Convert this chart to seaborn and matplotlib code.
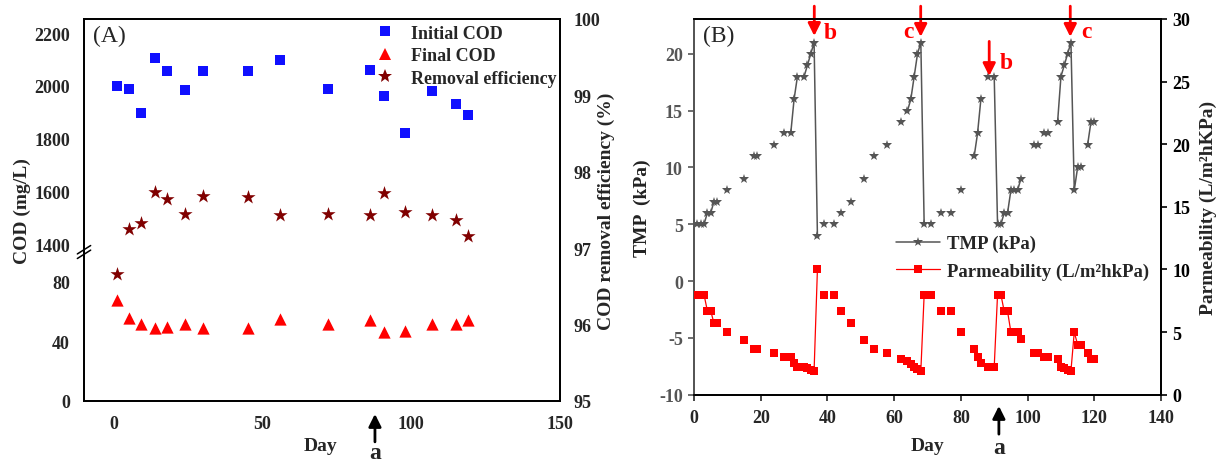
import numpy as np
import pandas as pd
import matplotlib
matplotlib.use("Agg")
import matplotlib.pyplot as plt
import matplotlib.transforms as mtransforms
from matplotlib.lines import Line2D
import seaborn as sns

# ---------------- Panel A data ----------------
a_day = [1, 5, 9, 14, 18, 24, 30, 45, 56, 72, 86, 91, 98, 107, 115, 119]
initial_cod = [2000, 1988, 1899, 2106, 2058, 1985, 2057, 2055, 2098, 1988, 2059, 1960, 1821, 1979, 1931, 1888]
final_cod = [67.3, 55.5, 51.5, 48.7, 49.8, 51.8, 48.7, 48.7, 54.7, 51.5, 54.2, 46.2, 47.1, 51.5, 51.5, 54.4]
removal_eff = [96.66, 97.25, 97.33, 97.74, 97.64, 97.45, 97.68, 97.67, 97.44, 97.45, 97.44, 97.72, 97.48, 97.43, 97.37, 97.16]
a_xticks = [0, 50, 100, 150]
a_yticks = [0, 40, 80, 1400, 1600, 1800, 2000, 2200]
a_y2ticks = [95, 96, 97, 98, 99, 100]

# ---------------- Panel B data ----------------
b_day = [1, 2, 3, 4, 5, 6, 7, 10, 15, 18, 19, 24, 27, 29, 30, 31, 33, 34, 35, 36,
         37, 39, 42, 44, 47, 51, 54, 58, 62, 64, 65, 66, 67, 68,
         69, 71, 74, 77, 80, 84, 85, 86, 88, 90,
         91, 92, 93, 94, 95, 96, 97, 98, 102, 103, 105, 106, 109, 110, 111, 112, 113,
         114, 115, 116, 118, 119, 120]
tmp = [5, 5, 5, 6, 6, 7, 7, 8, 9, 11, 11, 12, 13, 13, 16, 18, 18, 19, 20, 21,
       4, 5, 5, 6, 7, 9, 11, 12, 14, 15, 16, 18, 20, 21,
       5, 5, 6, 6, 8, 11, 13, 16, 18, 18,
       5, 5, 6, 6, 8, 8, 8, 9, 12, 12, 13, 13, 14, 18, 19, 20, 21,
       8, 10, 10, 12, 14, 14]
perm = [8.0, 8.0, 8.0, 6.7, 6.7, 5.7, 5.7, 5.0, 4.4, 3.65, 3.65, 3.3, 3.05, 3.05, 2.5, 2.24, 2.24, 2.1, 2.0, 1.9,
        10.0, 8.0, 8.0, 6.7, 5.7, 4.4, 3.65, 3.3, 2.85, 2.67, 2.45, 2.24, 2.05, 1.9,
        8.0, 8.0, 6.65, 6.65, 5.0, 3.65, 3.05, 2.5, 2.22, 2.22,
        8.0, 8.0, 6.65, 6.65, 5.0, 5.0, 5.0, 4.45, 3.3, 3.3, 3.05, 3.05, 2.84, 2.24, 2.1, 2.0, 1.9,
        5.0, 4.0, 4.0, 3.32, 2.84, 2.84]
b_xticks = [0, 20, 40, 60, 80, 100, 120, 140]
b_yticks = [-10, -5, 0, 5, 10, 15, 20]
b_y2ticks = [0, 5, 10, 15, 20, 25, 30]

sns.set_style("ticks")
plt.rcParams["font.family"] = ["Liberation Serif", "DejaVu Serif"]
plt.rcParams["font.weight"] = "bold"
plt.rcParams["axes.labelweight"] = "bold"
plt.rcParams["axes.unicode_minus"] = False

W, H = 1217, 464
fig = plt.figure(figsize=(W / 100, H / 100), dpi=100)

def rect(l, t, r, b):
    return [l / W, 1 - b / H, (r - l) / W, (b - t) / H]

# ====================== Panel A ======================
axA = fig.add_axes(rect(84, 20, 560, 402))
L_LO, L_HI, K_LO, K_UP = 104.0, 1400.0, 1.5, 0.265
B1 = L_LO * K_LO
B2 = B1 + 1.0

def fwd(y):
    y = np.asarray(y, dtype=float)
    return np.where(y <= L_LO, y * K_LO,
                    np.where(y <= L_HI, B1 + (y - L_LO) / (L_HI - L_LO),
                             B2 + (y - L_HI) * K_UP))

def inv(v):
    v = np.asarray(v, dtype=float)
    return np.where(v <= B1, v / K_LO,
                    np.where(v <= B2, L_LO + (v - B1) * (L_HI - L_LO),
                             L_HI + (v - B2) / K_UP))

axA.set_yscale("function", functions=(fwd, inv))
dfA = pd.DataFrame({"day": a_day, "init": initial_cod, "final": final_cod, "rem": removal_eff})
sns.scatterplot(data=dfA, x="day", y="init", ax=axA, marker="s", s=55, color="#1010ff",
                linewidth=0, legend=False, zorder=3)
sns.scatterplot(data=dfA, x="day", y="final", ax=axA, marker="^", s=78, color="#ff0000",
                linewidth=0, legend=False, zorder=3)
axA.set_xlim(-10, 150)
axA.set_ylim(0, 2253)
axA.set_xticks(a_xticks)
axA.set_yticks(a_yticks)
axA.set_yticklabels([str(t) for t in a_yticks])
axA.tick_params(axis="both", length=0, labelsize=13, pad=10)
axA.set_xlabel("Day", fontsize=14)
axA.set_ylabel("COD (mg/L)", fontsize=14)
axA.xaxis.set_label_coords(0.496, -0.095)
axA.yaxis.set_label_coords(-0.111, 0.5)

axA2 = axA.twinx()
sns.scatterplot(data=dfA, x="day", y="rem", ax=axA2, marker="*", s=115, color="#800000",
                linewidth=0, legend=False, zorder=3)
axA2.set_ylim(95, 100)
axA2.set_yticks(a_y2ticks)
axA2.tick_params(axis="y", length=0, labelsize=13, pad=10)
axA2.set_ylabel("COD removal efficiency (%)", fontsize=14)
axA2.yaxis.set_label_coords(1.079, 0.5)
for ax in (axA, axA2):
    for s in ax.spines.values():
        s.set_linewidth(1.3)
        s.set_color("black")
        s.set_visible(True)

# axis break marks
for dy in (0.0, -0.012):
    axA.plot([-0.014, 0.014], [0.385 + dy, 0.407 + dy], transform=axA.transAxes,
             color="black", lw=1.1, clip_on=False, zorder=5)

axA.text(0.018, 0.985, "(A)", transform=axA.transAxes, ha="left", va="top",
         fontsize=17, fontweight="normal")

hA = [Line2D([], [], ls="none", marker="s", ms=7, color="#1010ff", mew=0),
      Line2D([], [], ls="none", marker="^", ms=8, color="#ff0000", mew=0),
      Line2D([], [], ls="none", marker="*", ms=10, color="#800000", mew=0)]
axA2.legend(hA, ["Initial COD", "Final COD", "Removal efficiency"], loc="upper left",
            bbox_to_anchor=(0.599, 0.985), frameon=False, fontsize=13, borderpad=0,
            borderaxespad=0, handlelength=1.8, handletextpad=0.5, labelspacing=0.3)

trA = mtransforms.blended_transform_factory(axA.transData, axA.transAxes)
axA.annotate("", xy=(87.8, -0.034), xycoords=trA, xytext=(87.8, -0.107), textcoords=trA,
             arrowprops=dict(arrowstyle="-|>,head_length=0.5,head_width=0.25", color="black",
                             lw=2, mutation_scale=15, shrinkA=0, shrinkB=0),
             annotation_clip=False)
axA.text(87.8, -0.136, "a", transform=trA, ha="center", va="center", fontsize=17,
         fontweight="bold")

# ====================== Panel B ======================
axB = fig.add_axes(rect(694, 20, 1161, 395.7))
dfB = pd.DataFrame({"day": b_day, "tmp": tmp, "perm": perm})
dfB["run"] = (dfB["day"].diff() > 1).cumsum()
gray = "#555555"
sns.lineplot(data=dfB, x="day", y="tmp", units="run", estimator=None, ax=axB, color=gray,
             lw=1.1, marker="*", markersize=7.5, markeredgecolor=gray, markeredgewidth=0,
             legend=False, zorder=3)
axB.set_xlim(0, 140)
axB.set_ylim(-10, 23.07)
axB.set_xticks(b_xticks)
axB.set_yticks(b_yticks)
axB.tick_params(axis="x", length=4, width=1.2, labelsize=13, pad=6, direction="out")
axB.tick_params(axis="y", length=4, width=1.2, labelsize=13, pad=4, direction="out",
                colors=gray)
axB.set_xlabel("Day", fontsize=14)
axB.set_ylabel("TMP  (kPa)", fontsize=14, color="#222222")
axB.xaxis.set_label_coords(0.5, -0.113)
axB.yaxis.set_label_coords(-0.092, 0.5)

axB2 = axB.twinx()
sns.lineplot(data=dfB, x="day", y="perm", units="run", estimator=None, ax=axB2,
             color="#ff0000", lw=0.9, marker="s", markersize=5.5, markeredgecolor="#ff0000",
             markeredgewidth=0, legend=False, zorder=3)
axB2.set_ylim(0, 30)
axB2.set_yticks(b_y2ticks)
axB2.tick_params(axis="y", length=4, width=1.2, labelsize=13, pad=4, direction="out",
                 colors="black")
axB2.set_ylabel("Parmeability (L/m²hKPa)", fontsize=14)
axB2.yaxis.set_label_coords(1.083, 0.5)
for ax in (axB, axB2):
    for s in ax.spines.values():
        s.set_linewidth(1.3)
        s.set_color("black")
        s.set_visible(True)
    ax.spines["left"].set_color(gray)

axB.text(0.02, 0.985, "(B)", transform=axB.transAxes, ha="left", va="top",
         fontsize=17, fontweight="normal")

hB = [Line2D([], [], color=gray, lw=1.1, marker="*", ms=7.5, mew=0),
      Line2D([], [], color="#ff0000", lw=0.9, marker="s", ms=6, mew=0)]
axB2.legend(hB, ["TMP (kPa)", "Parmeability (L/m²hkPa)"], loc="upper left",
            bbox_to_anchor=(0.4325, 0.425), frameon=False, fontsize=13.5, borderpad=0,
            borderaxespad=0, handlelength=2.35, handletextpad=0.37, labelspacing=0.55)

# red arrows with labels
red_days = [36.06, 67.96, 88.5, 112.8]
red_tip = [21.58, 21.5, 18.05, 21.5]
red_tail = [24.2, 24.2, 21.1, 24.2]
red_lab = ["b", "c", "b", "c"]
red_lab_x = [40.8, 64.4, 93.7, 117.7]
red_lab_y = [21.9, 22.0, 19.2, 22.0]
for d, t0, t1, lab, lx, ly in zip(red_days, red_tip, red_tail, red_lab, red_lab_x, red_lab_y):
    axB.annotate("", xy=(d, t0), xytext=(d, t1),
                 arrowprops=dict(arrowstyle="-|>,head_length=0.5,head_width=0.25",
                                 color="#ff0000", lw=2, mutation_scale=15,
                                 shrinkA=0, shrinkB=0),
                 annotation_clip=False, zorder=6)
    axB.text(lx, ly, lab, color="#ff0000", ha="center", va="center", fontsize=17,
             fontweight="bold", zorder=6)

trB = mtransforms.blended_transform_factory(axB.transData, axB.transAxes)
axB.annotate("", xy=(91.4, -0.030), xycoords=trB, xytext=(91.4, -0.105), textcoords=trB,
             arrowprops=dict(arrowstyle="-|>,head_length=0.5,head_width=0.25", color="black",
                             lw=2, mutation_scale=15, shrinkA=0, shrinkB=0),
             annotation_clip=False)
axB.text(91.4, -0.140, "a", transform=trB, ha="center", va="center", fontsize=17,
         fontweight="bold")

fig.savefig("out.png", dpi=100)
